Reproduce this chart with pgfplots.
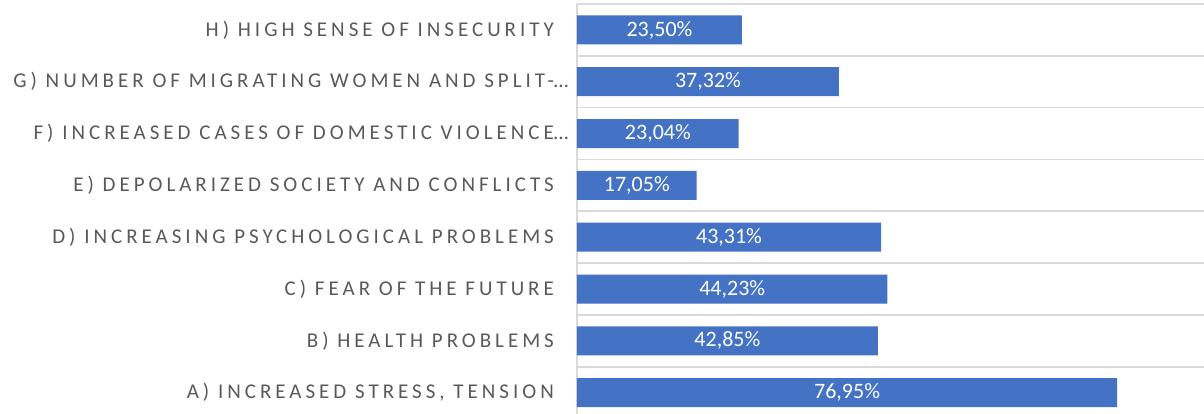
\documentclass[border=0pt]{standalone}
\usepackage{fontspec}
\setmainfont{Carlito}
\newfontfamily\lblfont[LetterSpace=19]{Carlito}
\usepackage{pgfplots}
\pgfplotsset{compat=1.18}
\definecolor{barblue}{HTML}{4472C4}
\definecolor{gridgray}{HTML}{D9D9D9}
\definecolor{txtgray}{HTML}{595959}
\begin{document}
\begin{tikzpicture}
\begin{axis}[
    xbar,
    scale only axis,
    width=315.9pt, height=207.3pt,
    xmin=0, xmax=90,
    ymin=-0.5, ymax=7.5,
    enlargelimits=false,
    bar width=14.5pt,
    hide x axis,
    axis y line*=left,
    y axis line style={gridgray, line width=1pt},
    ytick={0,...,7},
    yticklabels={
        A) INCREASED STRESS{,} TENSION,
        B) HEALTH PROBLEMS,
        C) FEAR OF THE FUTURE,
        D) INCREASING PSYCHOLOGICAL PROBLEMS,
        E) DEPOLARIZED SOCIETY AND CONFLICTS,
        F) INCREASED CASES OF DOMESTIC VIOLENCE\rlap{…},
        G) NUMBER OF MIGRATING WOMEN AND SPLIT-\rlap{…},
        H) HIGH SENSE OF INSECURITY},
    yticklabel style={font=\lblfont\fontsize{10.5}{12}\selectfont, text=txtgray, anchor=east, xshift=-8pt},
    major tick length=0pt,
    minor ytick={-0.5,0.5,...,7.5},
    yminorgrids,
    minor grid style={gridgray, line width=0.8pt},
    minor tick length=0pt,
    point meta=explicit symbolic,
    nodes near coords,
    visualization depends on=x \as \rawx,
    every node near coord/.append style={
        font=\fontsize{11}{13}\selectfont, text=white, anchor=center,
        shift={(axis direction cs:-\rawx/2,0)}},
]
\addplot[fill=barblue, draw=none] coordinates {
    (76.95,0) [76,95\%]
    (42.85,1) [42,85\%]
    (44.23,2) [44,23\%]
    (43.31,3) [43,31\%]
    (17.05,4) [17,05\%]
    (23.04,5) [23,04\%]
    (37.32,6) [37,32\%]
    (23.50,7) [23,50\%]
};
\end{axis}
\pgfresetboundingbox
\path[use as bounding box] (-288.5pt,2.8pt) rectangle (313.5pt,209.3pt);
\end{tikzpicture}
\end{document}
